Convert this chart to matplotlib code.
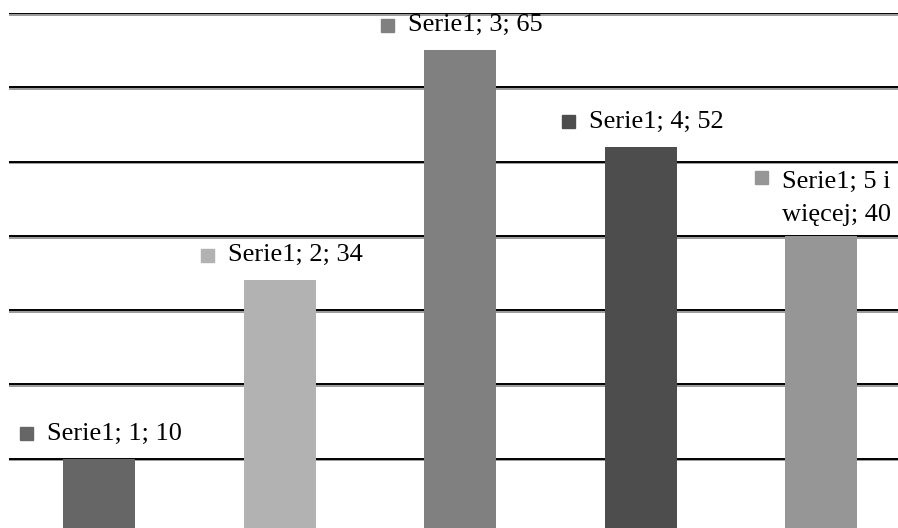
import matplotlib.pyplot as plt
import matplotlib.patheffects as pe
from matplotlib.offsetbox import AnnotationBbox, DrawingArea, HPacker, TextArea
from matplotlib.patches import Rectangle

plt.rcParams['font.family'] = ['Liberation Serif', 'DejaVu Serif']

# dane
categories = ['1', '2', '3', '4', '5 i\nwięcej']
values = [10, 34, 65, 52, 40]
series_name = 'Serie1'
colors = ['#666666', '#b2b2b2', '#808080', '#4d4d4d', '#969696']
grid_ticks = [10, 20, 30, 40, 50, 60, 70]

dpi = 100
fig = plt.figure(figsize=(8.98, 5.28), dpi=dpi)
# os wychodzi poza prawa i dolna krawedz (wykres przyciety)
ax = fig.add_axes([9 / 898, -5 / 528, 902.5 / 898, 520 / 528])

x = list(range(len(values)))
ax.bar(x, values, width=0.4, color=colors, zorder=2)
ax.set_xlim(-0.5, len(values) - 0.5)
ax.set_ylim(0, 70)

ax.set_yticks(grid_ticks)
ax.yaxis.grid(True, color='black', linewidth=1.4)
ax.set_axisbelow(True)
for gl in ax.get_ygridlines():
    gl.set_path_effects([pe.SimpleLineShadow(offset=(0, -1.2), shadow_color='#9a9a9a', alpha=1),
                         pe.Normal()])
ax.tick_params(left=False, bottom=False, labelleft=False, labelbottom=False)
for s in ax.spines.values():
    s.set_visible(False)

px = 72 / dpi  # piksele -> punkty
for i, (cat, val) in enumerate(zip(categories, values)):
    multi = '\n' in cat
    txt = f'{series_name}; {cat}; {val}'
    ta = TextArea(txt, textprops=dict(fontsize=19, color='black', linespacing=1.65))
    da = DrawingArea(13 * px, 13 * px, 0, 0)
    da.add_artist(Rectangle((0, 0), 13 * px, 13 * px, color=colors[i]))
    if multi:
        box = HPacker(children=[da, ta], align='top', pad=0, sep=14 * px)
        dy = 37
    else:
        box = HPacker(children=[da, ta], align='center', pad=0, sep=14 * px)
        dy = 25
    ab = AnnotationBbox(box, (i, val), xybox=(2 * px, dy * px), xycoords='data',
                        boxcoords='offset points', box_alignment=(0.5, 0.5),
                        frameon=False, pad=0, annotation_clip=False)
    ax.add_artist(ab)

fig.savefig('out.png', dpi=dpi)
